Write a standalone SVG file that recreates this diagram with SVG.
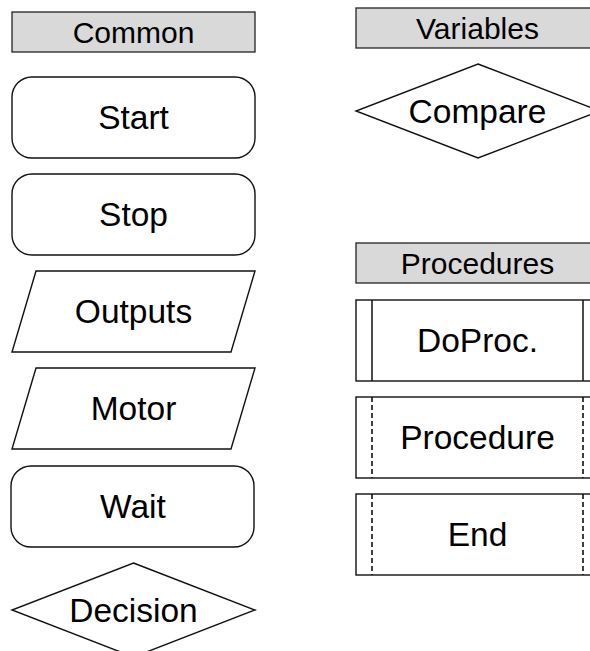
<svg xmlns="http://www.w3.org/2000/svg" width="590" height="651" viewBox="0 0 590 651">
<style>
.hdr{fill:#d9d9d9;stroke:#222;stroke-width:1.3}
.shp{fill:#fff;stroke:#111;stroke-width:1.4}
.ln{stroke:#111;stroke-width:1.5;fill:none}
.dash{stroke:#111;stroke-width:1.6;fill:none;stroke-dasharray:5 3}
.ht{font-family:"Liberation Sans",Arial,sans-serif;font-size:30px;fill:#000;text-anchor:middle}
.nt{font-family:"Liberation Sans",Arial,sans-serif;font-size:33.5px;fill:#000;text-anchor:middle}
</style>
<rect width="590" height="651" fill="#fff"/>
<g id="connectors"></g>
<g id="hdr-common"><rect class="hdr" x="12" y="12" width="243" height="40"/><text class="ht" x="133.5" y="42.7">Common</text></g>
<g id="node-start"><rect class="shp" x="12" y="77" width="243" height="81" rx="20" ry="20"/><text class="nt" x="133.5" y="129.3">Start</text></g>
<g id="node-stop"><rect class="shp" x="12" y="174" width="243" height="81" rx="20" ry="20"/><text class="nt" x="133.5" y="226.3">Stop</text></g>
<g id="node-outputs"><polygon class="shp" points="36,271 255,271 231,352 12,352"/><text class="nt" x="133.5" y="323.3">Outputs</text></g>
<g id="node-motor"><polygon class="shp" points="36,368 255,368 231,449 12,449"/><text class="nt" x="133.5" y="420.3">Motor</text></g>
<g id="node-wait"><rect class="shp" x="11" y="466" width="243" height="81" rx="20" ry="20"/><text class="nt" x="133" y="518.3">Wait</text></g>
<g id="node-decision"><polygon class="shp" points="133.5,563 255,610 133.5,657 12,610"/><text class="nt" x="133.5" y="621.8">Decision</text></g>
<g id="hdr-variables"><rect class="hdr" x="356" y="8" width="243" height="40"/><text class="ht" x="477.5" y="38.7">Variables</text></g>
<g id="node-compare"><polygon class="shp" points="478,64 600,111 478,158 356,111"/><text class="nt" x="477.5" y="122.8">Compare</text></g>
<g id="hdr-procedures"><rect class="hdr" x="356" y="243" width="243" height="40"/><text class="ht" x="477.5" y="273.7">Procedures</text></g>
<g id="node-doproc"><rect class="shp" x="356" y="300" width="243" height="81"/><line class="ln" x1="372" y1="300" x2="372" y2="381"/><line class="ln" x1="583" y1="300" x2="583" y2="381"/><text class="nt" x="477.5" y="352.3">DoProc.</text></g>
<g id="node-procedure"><rect class="shp" x="356" y="397" width="243" height="81"/><line class="dash" x1="372" y1="397" x2="372" y2="478"/><line class="dash" x1="583" y1="397" x2="583" y2="478"/><text class="nt" x="477.5" y="449.3">Procedure</text></g>
<g id="node-end"><rect class="shp" x="356" y="494" width="243" height="81"/><line class="dash" x1="372" y1="494" x2="372" y2="575"/><line class="dash" x1="583" y1="494" x2="583" y2="575"/><text class="nt" x="477.5" y="546.3">End</text></g>
</svg>
